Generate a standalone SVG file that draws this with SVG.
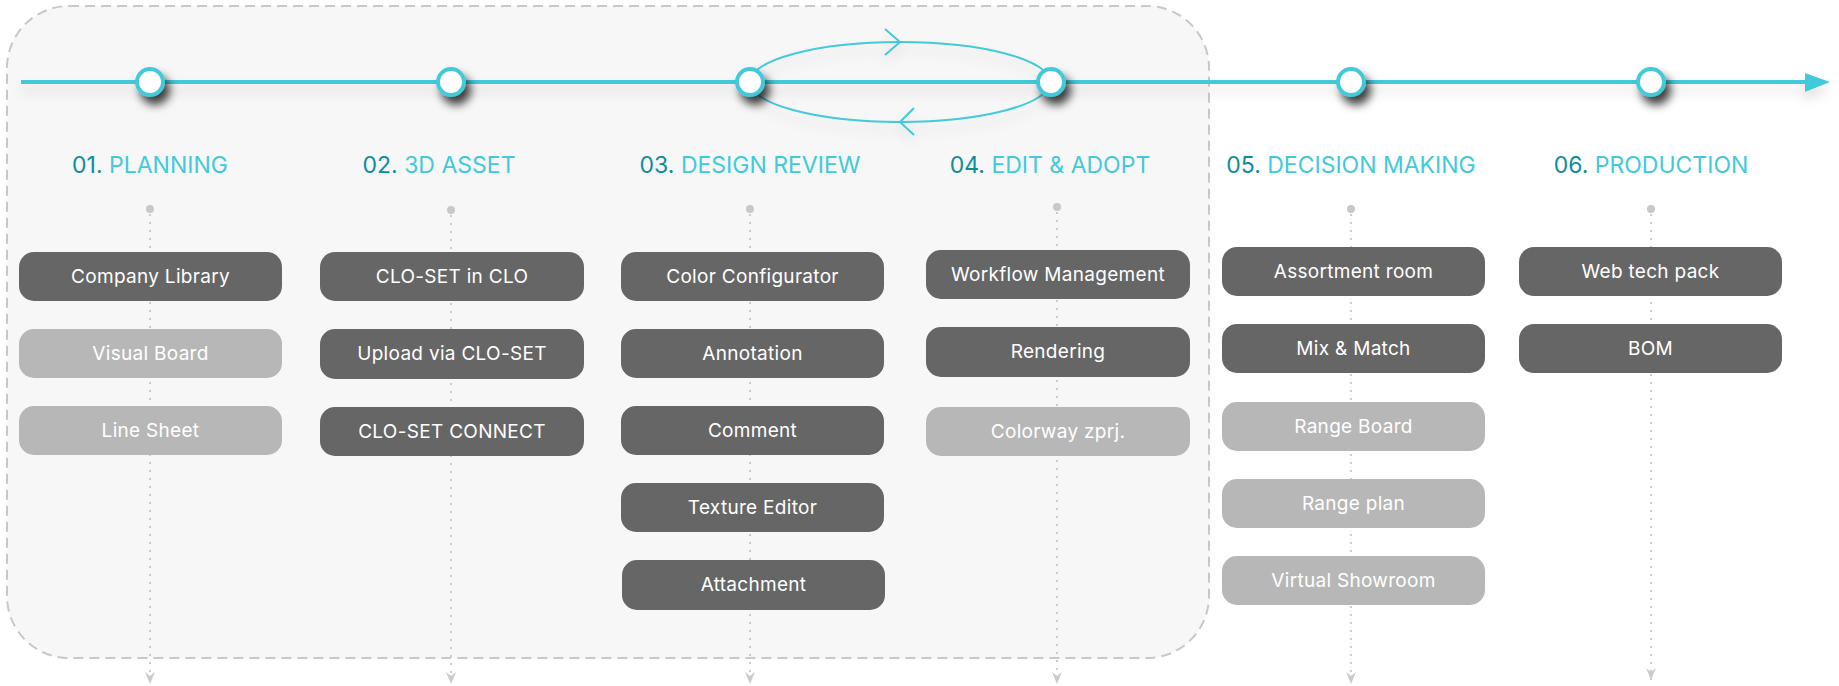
<svg xmlns="http://www.w3.org/2000/svg" width="1839" height="686" viewBox="0 0 1839 686">
  <style>
    .box-dark { fill: #666666; }
    .box-light { fill: #b7b7b7; }
    .lbl { font-family: Inter, "Open Sans", "Liberation Sans", sans-serif; font-size: 19px; letter-spacing: 0.3px; fill: #ffffff; text-anchor: middle; }
    .head { font-family: Inter, "Open Sans", "Liberation Sans", sans-serif; font-size: 23px; text-anchor: middle; }
    .num { fill: #0b8d9c; }
    .ttl { fill: #42c9da; }
    .node { fill: #ffffff; stroke: #42c9da; stroke-width: 4; }
    .drop { stroke: #cccccc; stroke-width: 2; stroke-dasharray: 2 6; fill: none; }
    .dot { fill: #c8c8c8; }
    .loop { fill: none; stroke: #42c9da; stroke-width: 2; }
  </style>
  <defs>
    <filter id="nodeShadow" x="-80%" y="-80%" width="280%" height="280%">
      <feDropShadow dx="5" dy="8" stdDeviation="5" flood-color="#000000" flood-opacity="0.75"/>
    </filter>
    <filter id="lineShadow" x="-5%" y="-200%" width="110%" height="600%">
      <feDropShadow dx="0" dy="8" stdDeviation="6" flood-color="#000000" flood-opacity="0.12"/>
    </filter>
    <marker id="downArrow" markerUnits="userSpaceOnUse" markerWidth="12" markerHeight="14" refX="6" refY="13" orient="0" viewBox="0 0 12 14">
      <path d="M1,1 L6,5 L11,1 L6,13 Z" fill="#cccccc"/>
    </marker>
  </defs>

  <rect width="1839" height="686" fill="#ffffff"/>

  <!-- grouping frame -->
  <rect id="frame" x="7" y="6" width="1202" height="652" rx="62" ry="62" fill="#f7f7f7" stroke="#c8c8c8" stroke-width="2" stroke-dasharray="10 6"/>

  <!-- connectors -->
  <g id="connectors">
    <g id="drops">
      <circle class="dot" cx="150" cy="209" r="4"/>
      <line class="drop" x1="150" y1="214" x2="150" y2="684" marker-end="url(#downArrow)"/>
      <circle class="dot" cx="451" cy="210" r="4"/>
      <line class="drop" x1="451" y1="215" x2="451" y2="684" marker-end="url(#downArrow)"/>
      <circle class="dot" cx="750" cy="209" r="4"/>
      <line class="drop" x1="750" y1="214" x2="750" y2="684" marker-end="url(#downArrow)"/>
      <circle class="dot" cx="1057" cy="207" r="4"/>
      <line class="drop" x1="1057" y1="212" x2="1057" y2="684" marker-end="url(#downArrow)"/>
      <circle class="dot" cx="1351" cy="209" r="4"/>
      <line class="drop" x1="1351" y1="214" x2="1351" y2="684" marker-end="url(#downArrow)"/>
      <circle class="dot" cx="1651" cy="209" r="4"/>
      <line class="drop" x1="1651" y1="214" x2="1651" y2="680" marker-end="url(#downArrow)"/>
    </g>
    <g id="timeline" filter="url(#lineShadow)">
      <line x1="21" y1="82" x2="1808" y2="82" stroke="#42c9da" stroke-width="4"/>
      <path d="M1805,73 L1830,82 L1805,92 Z" fill="#42c9da"/>
    </g>
    <g id="review-loop" filter="url(#lineShadow)">
      <ellipse class="loop" cx="900" cy="82" rx="150" ry="40"/>
      <path class="loop" d="M885,29 L900,42 L885,55"/>
      <path class="loop" d="M914,108 L900,122 L914,135"/>
    </g>
  </g>

  <!-- timeline nodes -->
  <g id="node-01" filter="url(#nodeShadow)"><circle class="node" cx="150" cy="82" r="13"/></g>
  <g id="node-02" filter="url(#nodeShadow)"><circle class="node" cx="451" cy="82" r="13"/></g>
  <g id="node-03" filter="url(#nodeShadow)"><circle class="node" cx="750" cy="82" r="13"/></g>
  <g id="node-04" filter="url(#nodeShadow)"><circle class="node" cx="1051" cy="82" r="13"/></g>
  <g id="node-05" filter="url(#nodeShadow)"><circle class="node" cx="1351" cy="82" r="13"/></g>
  <g id="node-06" filter="url(#nodeShadow)"><circle class="node" cx="1651" cy="82" r="13"/></g>

  <!-- headings -->
  <g id="heading-01"><text class="head" x="150" y="173"><tspan class="num">01.</tspan> <tspan class="ttl">PLANNING</tspan></text></g>
  <g id="heading-02"><text class="head" x="439" y="173"><tspan class="num">02.</tspan> <tspan class="ttl">3D ASSET</tspan></text></g>
  <g id="heading-03"><text class="head" x="750" y="173"><tspan class="num">03.</tspan> <tspan class="ttl">DESIGN REVIEW</tspan></text></g>
  <g id="heading-04"><text class="head" x="1050" y="173"><tspan class="num">04.</tspan> <tspan class="ttl">EDIT &amp; ADOPT</tspan></text></g>
  <g id="heading-05"><text class="head" x="1351" y="173"><tspan class="num">05.</tspan> <tspan class="ttl">DECISION MAKING</tspan></text></g>
  <g id="heading-06"><text class="head" x="1651" y="173"><tspan class="num">06.</tspan> <tspan class="ttl">PRODUCTION</tspan></text></g>

  <!-- column 1 -->
  <g id="company-library"><rect class="box-dark" x="19" y="252" width="263" height="49" rx="15"/><text class="lbl" x="150.5" y="283">Company Library</text></g>
  <g id="visual-board"><rect class="box-light" x="19" y="329" width="263" height="49" rx="15"/><text class="lbl" x="150.5" y="360">Visual Board</text></g>
  <g id="line-sheet"><rect class="box-light" x="19" y="406" width="263" height="49" rx="15"/><text class="lbl" x="150.5" y="437">Line Sheet</text></g>

  <!-- column 2 -->
  <g id="clo-set-in-clo"><rect class="box-dark" x="320" y="252" width="264" height="49" rx="15"/><text class="lbl" x="452" y="283">CLO-SET in CLO</text></g>
  <g id="upload-via-clo-set"><rect class="box-dark" x="320" y="329" width="264" height="50" rx="15"/><text class="lbl" x="452" y="360">Upload via CLO-SET</text></g>
  <g id="clo-set-connect"><rect class="box-dark" x="320" y="407" width="264" height="49" rx="15"/><text class="lbl" x="452" y="438">CLO-SET CONNECT</text></g>

  <!-- column 3 -->
  <g id="color-configurator"><rect class="box-dark" x="621" y="252" width="263" height="49" rx="15"/><text class="lbl" x="752.5" y="283">Color Configurator</text></g>
  <g id="annotation"><rect class="box-dark" x="621" y="329" width="263" height="49" rx="15"/><text class="lbl" x="752.5" y="360">Annotation</text></g>
  <g id="comment"><rect class="box-dark" x="621" y="406" width="263" height="49" rx="15"/><text class="lbl" x="752.5" y="437">Comment</text></g>
  <g id="texture-editor"><rect class="box-dark" x="621" y="483" width="263" height="49" rx="15"/><text class="lbl" x="752.5" y="514">Texture Editor</text></g>
  <g id="attachment"><rect class="box-dark" x="622" y="560" width="263" height="50" rx="15"/><text class="lbl" x="753.5" y="591">Attachment</text></g>

  <!-- column 4 -->
  <g id="workflow-management"><rect class="box-dark" x="926" y="250" width="264" height="49" rx="15"/><text class="lbl" x="1058" y="281">Workflow Management</text></g>
  <g id="rendering"><rect class="box-dark" x="926" y="327" width="264" height="50" rx="15"/><text class="lbl" x="1058" y="358">Rendering</text></g>
  <g id="colorway-zprj"><rect class="box-light" x="926" y="407" width="264" height="49" rx="15"/><text class="lbl" x="1058" y="438">Colorway zprj.</text></g>

  <!-- column 5 -->
  <g id="assortment-room"><rect class="box-dark" x="1222" y="247" width="263" height="49" rx="15"/><text class="lbl" x="1353.5" y="278">Assortment room</text></g>
  <g id="mix-match"><rect class="box-dark" x="1222" y="324" width="263" height="49" rx="15"/><text class="lbl" x="1353.5" y="355">Mix &amp; Match</text></g>
  <g id="range-board"><rect class="box-light" x="1222" y="402" width="263" height="49" rx="15"/><text class="lbl" x="1353.5" y="433">Range Board</text></g>
  <g id="range-plan"><rect class="box-light" x="1222" y="479" width="263" height="49" rx="15"/><text class="lbl" x="1353.5" y="510">Range plan</text></g>
  <g id="virtual-showroom"><rect class="box-light" x="1222" y="556" width="263" height="49" rx="15"/><text class="lbl" x="1353.5" y="587">Virtual Showroom</text></g>

  <!-- column 6 -->
  <g id="web-tech-pack"><rect class="box-dark" x="1519" y="247" width="263" height="49" rx="15"/><text class="lbl" x="1650.5" y="278">Web tech pack</text></g>
  <g id="bom"><rect class="box-dark" x="1519" y="324" width="263" height="49" rx="15"/><text class="lbl" x="1650.5" y="355">BOM</text></g>
</svg>
